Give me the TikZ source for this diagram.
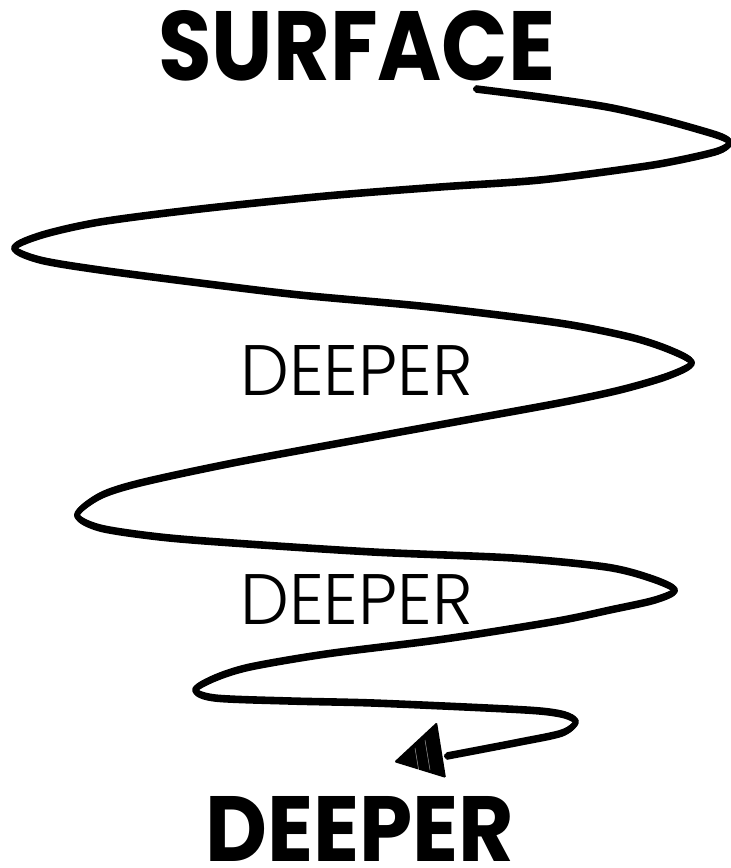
\documentclass[tikz,border=0pt]{standalone}
\usepackage{fontspec}
\setmainfont{Poppins}
\newfontfamily\lightfont{Poppins Light}
\usepackage{graphicx}
\tikzset{
  bigtitle/.style={inner sep=0pt, anchor=base west},
  midlabel/.style={inner sep=0pt, anchor=base west},
  brush/.style={line cap=round, line join=round, draw=black},
}
\begin{document}
\begin{tikzpicture}[x=1pt,y=-1pt]
\useasboundingbox (0,0) rectangle (731,868);
\fill[white] (0,0) rectangle (731,868);

% texts
\node[bigtitle] (surface) at (158,80) {\resizebox{397pt}{70pt}{\bfseries SURFACE}};
\node[midlabel] (deeperA) at (240,395) {\resizebox{233pt}{50pt}{\lightfont DEEPER}};
\node[midlabel] (deeperB) at (240,624) {\resizebox{233pt}{50pt}{\lightfont DEEPER}};
\node[bigtitle] (deeperC) at (205,861) {\resizebox{309pt}{65pt}{\bfseries DEEPER}};

% spiral brush stroke
\foreach \dy/\w in {0/6, 3/1.6, -3/1.6} {
\draw[brush, line width=\w pt, yshift=\dy pt] plot[smooth, tension=0.5] coordinates {
 (476,89) (540,97) (607,107) (660,119) (700,130) (722,137) (730,143) (718,151)
 (680,160) (640,167) (540,180) (440,187) (326,196) (200,209) (100,222) (42,235) (14,248) (40,260)
 (100,270) (200,283) (300,295) (430,307) (559,323) (630,337) (670,350) (692,363) (668,376)
 (620,390) (559,403) (466,420) (373,437) (233,463) (140,483) (100,496) (77,515) (100,528)
 (160,537) (233,543) (373,552) (513,558) (606,567) (650,578) (675,590) (655,600)
 (610,610) (563,620) (497,631) (430,641) (326,654) (250,667) (215,678) (195,690) (215,698)
 (290,701) (373,703) (487,708) (540,711) (565,715) (576,722) (562,733)
 (520,742) (447,756)
};
}
% arrow head
\fill[black, rounded corners=1.5pt] (394,762) -- (437,722) -- (446,778) -- cycle;
\draw[white, line width=0.5pt, opacity=0.6] (425,740) -- (430,770);
\draw[white, line width=0.5pt, opacity=0.6] (415,748) -- (419,772);
\end{tikzpicture}
\end{document}
